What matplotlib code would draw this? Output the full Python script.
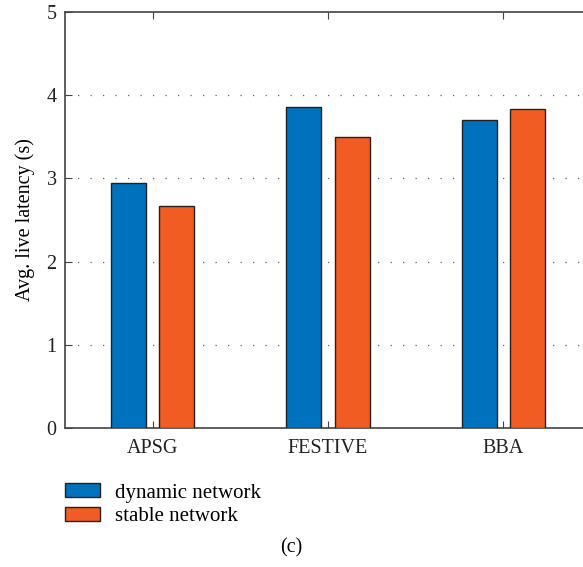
import numpy as np
import matplotlib.pyplot as plt

# average live latency per algorithm under two network conditions
algorithms = ['APSG', 'FESTIVE', 'BBA']
dynamic_latency = [2.94, 3.86, 3.70]
stable_latency = [2.67, 3.50, 3.83]

plt.rcParams['font.family'] = ['Liberation Serif', 'DejaVu Serif']
plt.rcParams['font.size'] = 14.5

blue = '#0072BD'
orange = '#F15C22'

fig = plt.figure(figsize=(5.83, 5.67), dpi=100)
ax = fig.add_axes([65 / 583, 1 - 428 / 567, 526 / 583, 416 / 567])

x = np.arange(1, len(algorithms) + 1)
w = 0.2
off = 0.138
b1 = ax.bar(x - off, dynamic_latency, w, color=blue, edgecolor='#222222',
            linewidth=1.0, label='dynamic network', zorder=3)
b2 = ax.bar(x + off, stable_latency, w, color=orange, edgecolor='#222222',
            linewidth=1.0, label='stable network', zorder=3)

ax.set_xlim(0.5, 3.5)
ax.set_ylim(0, 5)
ax.set_xticks(x)
ax.set_xticklabels(algorithms)
ax.set_yticks(range(6))
ax.set_ylabel('Avg. live latency (s)', labelpad=8)

# dotted grid only at the interior levels
for yv in range(1, 5):
    ax.axhline(yv, color='#666666', linestyle=(0, (1, 9)), linewidth=0.9, zorder=1)

for s in ['left', 'bottom', 'top']:
    ax.spines[s].set_color('#444444')
    ax.spines[s].set_linewidth(1.2)
ax.spines['right'].set_visible(False)
ax.tick_params(direction='in', top=True, length=5, color='#444444',
               labelcolor='#222222', pad=6)
ax.tick_params(axis='x', pad=8)

fig.legend(handles=[b1, b2], loc='upper left', bbox_to_anchor=(0.08, 0.181),
           frameon=False, handlelength=1.68, handleheight=0.67,
           labelspacing=0.22, handletextpad=0.68, fontsize=15)

fig.text(291 / 583, 1 - 548 / 567, '(c)', ha='center', va='center', fontsize=14.5)

fig.savefig('out.png', dpi=100)
